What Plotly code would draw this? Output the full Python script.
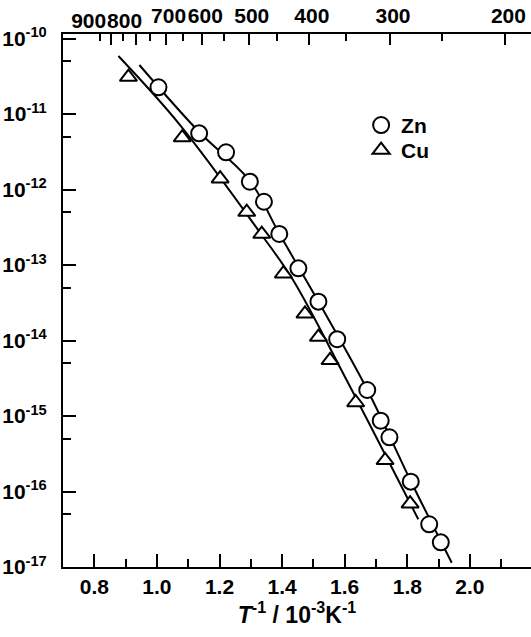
import plotly.graph_objects as go

# Reciprocal temperature, 10^-3 K^-1, and diffusion coefficients
zn_invT = [1.005, 1.135, 1.221, 1.297, 1.342, 1.391, 1.452, 1.516, 1.576,
           1.672, 1.715, 1.743, 1.811, 1.870, 1.907]
zn_D = [2.26e-11, 5.55e-12, 3.11e-12, 1.27e-12, 6.89e-13, 2.58e-13, 9.04e-14,
        3.27e-14, 1.04e-14, 2.21e-15, 8.67e-16, 5.22e-16, 1.35e-16, 3.68e-17,
        2.12e-17]

cu_invT = [0.909, 1.081, 1.202, 1.287, 1.335, 1.404, 1.473, 1.516, 1.553,
           1.635, 1.729, 1.809]
cu_D = [3.09e-11, 4.88e-12, 1.39e-12, 5.02e-13, 2.57e-13, 7.66e-14, 2.26e-14,
        1.11e-14, 5.46e-15, 1.51e-15, 2.59e-16, 6.89e-17]

# Hand-drawn guide curves through each data set
zn_fit_invT = [0.944, 1.135, 1.297, 1.390, 1.515, 1.671, 1.811, 1.942]
zn_fit_D = [4.46e-11, 5.78e-12, 1.30e-12, 2.65e-13, 3.33e-14, 2.28e-15,
            1.38e-16, 1.14e-17]
cu_fit_invT = [0.877, 1.074, 1.339, 1.435, 1.606, 1.835]
cu_fit_D = [5.86e-11, 7.14e-12, 2.37e-13, 6.32e-14, 3.00e-15, 4.29e-17]

# Bottom axis ticks
x_major = [0.8, 1.0, 1.2, 1.4, 1.6, 1.8, 2.0]
x_minor = [0.9, 1.1, 1.3, 1.5, 1.7, 1.9, 2.1]

# Top axis: temperature in degrees Celsius
temp_major = [900, 800, 700, 600, 500, 400, 300, 200]
temp_minor = [950, 850, 750, 650, 550, 450, 350, 250]

# Left axis decades
y_exponents = [-17, -16, -15, -14, -13, -12, -11, -10]

FONT = "Liberation Sans, Arial, Helvetica, sans-serif"
TICK_SIZE = 21


def inv_T(celsius):
    """Convert a Celsius temperature to 1000/T in K^-1."""
    return 1000.0 / (celsius + 273.15)


fig = go.Figure()

fig.add_trace(go.Scatter(
    x=zn_fit_invT, y=zn_fit_D, mode="lines", line=dict(color="black", width=2, shape="spline"),
    showlegend=False, hoverinfo="skip"))
fig.add_trace(go.Scatter(
    x=cu_fit_invT, y=cu_fit_D, mode="lines", line=dict(color="black", width=2, shape="spline"),
    showlegend=False, hoverinfo="skip"))

fig.add_trace(go.Scatter(
    x=zn_invT, y=zn_D, mode="markers", name="Zn", legend="legend",
    marker=dict(symbol="circle", size=16, color="white", line=dict(color="black", width=2))))
fig.add_trace(go.Scatter(
    x=cu_invT, y=cu_D, mode="markers", name="Cu", legend="legend2",
    marker=dict(symbol="triangle-up", size=15, color="white", line=dict(color="black", width=2))))

# Invisible traces that carry the temperature axes
for ax in ("x2", "x3", "x4"):
    fig.add_trace(go.Scatter(x=[None], y=[None], xaxis=ax, showlegend=False, hoverinfo="skip"))

x_range = [0.7, 0.7 + 468 / 313]
legend_style = dict(xanchor="left", yanchor="top", bgcolor="rgba(0,0,0,0)",
                    font=dict(size=21, weight="bold"), itemsizing="trace")
tick_font = dict(size=TICK_SIZE, weight="bold")

# The two hottest labels are crowded, so each sits on its own overlay axis
# with a small sideways shift; the main top axis draws every tick mark.
top_labels = [str(t) if t not in (900, 800) else "" for t in temp_major]


def label_axis(celsius, shift):
    return dict(overlaying="x", side="top", anchor="y", range=x_range,
                showgrid=False, zeroline=False, showline=False,
                ticks="", tickmode="array", tickvals=[inv_T(celsius)],
                ticktext=[str(celsius)], tickangle=0, tickfont=tick_font,
                ticklabelstandoff=1, ticklabelshift=shift)


fig.update_layout(
    width=531, height=637,
    margin=dict(l=63, r=0, t=34, b=70),
    paper_bgcolor="white", plot_bgcolor="white",
    font=dict(family=FONT, color="black", size=20, weight="bold"),
    showlegend=True,
    legend=dict(x=0.637, y=0.867, **legend_style),
    legend2=dict(x=0.637, y=0.820, **legend_style),
    xaxis=dict(
        range=x_range, showgrid=False, zeroline=False,
        showline=True, linecolor="black", linewidth=2,
        ticks="inside", ticklen=13, tickwidth=2, tickcolor="black",
        tickmode="array", tickvals=x_major, ticktext=[f"{v:.1f}" for v in x_major],
        tickfont=tick_font, ticklabelstandoff=0,
        minor=dict(tickmode="array", tickvals=x_minor, ticks="inside",
                   ticklen=8, tickwidth=2, tickcolor="black", showgrid=False),
        title=dict(text="<i>T</i><sup>-1</sup> / 10<sup>-3</sup>K<sup>-1</sup>",
                   font=dict(size=23, weight="bold"), standoff=5),
    ),
    xaxis2=dict(
        overlaying="x", side="top", anchor="y",
        range=x_range, showgrid=False, zeroline=False,
        showline=True, linecolor="black", linewidth=2,
        ticks="inside", ticklen=11, tickwidth=2, tickcolor="black",
        tickmode="array", tickvals=[inv_T(t) for t in temp_major],
        ticktext=top_labels, tickangle=0, tickfont=tick_font,
        ticklabelstandoff=1, ticklabelshift=3,
        minor=dict(tickmode="array", tickvals=[inv_T(t) for t in temp_minor],
                   ticks="inside", ticklen=7, tickwidth=2, tickcolor="black",
                   showgrid=False),
    ),
    xaxis3=label_axis(900, -22),
    xaxis4=label_axis(800, -11),
    yaxis=dict(
        type="log", range=[-17, -9.94], showgrid=False, zeroline=False,
        showline=True, linecolor="black", linewidth=2,
        ticks="inside", ticklen=13, tickwidth=2, tickcolor="black",
        tickmode="array", tickvals=[10.0 ** e for e in y_exponents],
        ticktext=[f"10<sup>{e}</sup>" for e in y_exponents],
        tickfont=tick_font, ticklabelstandoff=10,
        minor=dict(tickmode="array", tickvals=[5 * 10.0 ** (e - 1) for e in y_exponents[1:]],
                   ticks="inside", ticklen=8, tickwidth=2, tickcolor="black",
                   showgrid=False),
    ),
)

fig.write_html("out.html")
